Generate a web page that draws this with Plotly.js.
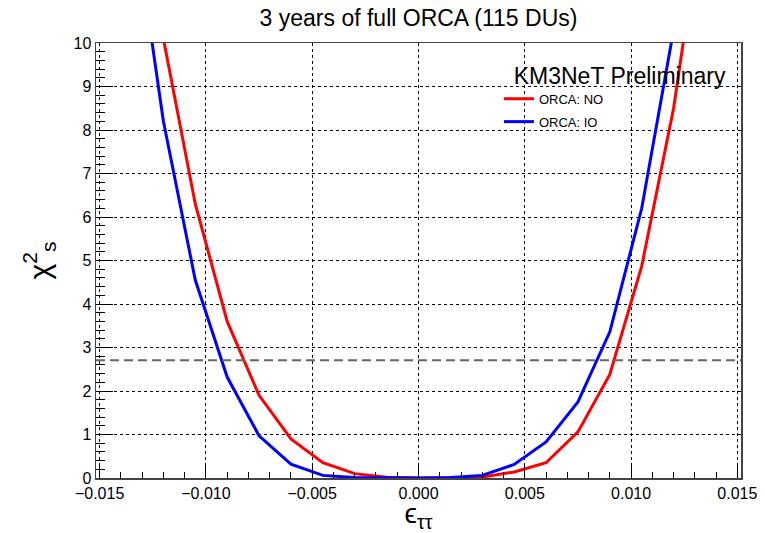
<!DOCTYPE html>
<html>
<head>
<meta charset="utf-8">
<script src="https://cdn.plot.ly/plotly-3.0.1.min.js"></script>
<style>html,body{margin:0;padding:0;background:#fff;}#chart{width:765px;height:533px;}</style>
</head>
<body>
<div id="chart"></div>
<script>
// epsilon_tautau scan points
var eps = [-0.015, -0.0135, -0.012, -0.0105, -0.009, -0.0075, -0.006, -0.0045, -0.003, -0.0015, 0,
           0.0015, 0.003, 0.0045, 0.006, 0.0075, 0.009, 0.0105, 0.012, 0.0135, 0.015];
// chi2 for ORCA normal ordering
var chi2NO = [20, 15, 10.1, 6.3, 3.6, 1.9, 0.9, 0.35, 0.1, 0.02, 0,
              0, 0.02, 0.14, 0.35, 1.06, 2.38, 4.87, 8.5, 13.5, 19];
// chi2 for ORCA inverted ordering
var chi2IO = [18, 13.3, 8.2, 4.55, 2.32, 0.97, 0.32, 0.06, 0.01, 0, 0,
              0.01, 0.06, 0.31, 0.83, 1.75, 3.36, 6.2, 10.3, 15, 20.5];
var seriesNames = ['ORCA: NO', 'ORCA: IO'];
var clLevel = 2.706;
var xTicks = [-0.015, -0.010, -0.005, 0.000, 0.005, 0.010, 0.015];
var yTicks = [0, 1, 2, 3, 4, 5, 6, 7, 8, 9, 10];

var font = 'Liberation Sans, Arial, Helvetica, sans-serif';

var traces = [
  {x: eps, y: chi2NO, name: seriesNames[0], legendgroup: 'no', mode: 'lines', line: {color: '#ff0000', width: 3}},
  {x: eps, y: chi2IO, name: seriesNames[1], legendgroup: 'io', mode: 'lines', line: {color: '#0000ff', width: 3}}
];

var layout = {
  width: 765, height: 533,
  margin: {l: 96, r: 24, t: 43, b: 55},
  paper_bgcolor: '#fff', plot_bgcolor: '#fff',
  font: {family: font, color: '#000'},
  title: {text: '3 years of full ORCA (115 DUs)', font: {size: 23, family: font},
          xref: 'paper', x: 0.5, xanchor: 'center', yref: 'container', y: 0.966, yanchor: 'middle'},
  xaxis: {
    range: [-0.01517, 0.01517],
    tickvals: xTicks, tickformat: '.3f',
    ticks: 'inside', ticklen: 12, tickwidth: 1, tickcolor: '#000',
    minor: {dtick: 0.001, tick0: 0, ticks: 'inside', ticklen: 6, tickcolor: '#000', showgrid: false},
    showgrid: true, griddash: 'dot', gridcolor: '#000', gridwidth: 1,
    zeroline: false, showline: true, mirror: true, linecolor: '#444', linewidth: 1.5,
    tickfont: {size: 16, family: font},
    title: {text: 'ϵ<sub>ττ</sub>', font: {size: 28, family: font}, standoff: 6}
  },
  yaxis: {
    range: [0, 10],
    tickvals: yTicks,
    ticks: 'inside', ticklen: 17, tickwidth: 1, tickcolor: '#000',
    minor: {dtick: 0.2, tick0: 0, ticks: 'inside', ticklen: 9, tickcolor: '#000', showgrid: false},
    showgrid: true, griddash: 'dot', gridcolor: '#000', gridwidth: 1,
    zeroline: false, showline: true, mirror: true, linecolor: '#444', linewidth: 1.5,
    tickfont: {size: 16, family: font},
    title: {text: 'χ<sup>2</sup><sub>s</sub>', font: {size: 30, family: font}, standoff: 14}
  },
  legend: {
    x: 0.6247, y: 0.975, xanchor: 'left', yanchor: 'top',
    bgcolor: 'rgba(0,0,0,0)', borderwidth: 0,
    title: {text: '\u00a0\u00a0KM3NeT Preliminary', font: {size: 23, family: font}},
    font: {size: 13, family: font},
    itemwidth: 30, tracegroupgap: 3
  },
  showlegend: true,
  shapes: [
    {type: 'line', xref: 'paper', x0: 0, x1: 1, yref: 'y', y0: clLevel, y1: clLevel,
     line: {color: '#666', width: 2, dash: '9px,5px'}, layer: 'above'}
  ]
};

Plotly.newPlot('chart', traces, layout, {displayModeBar: false, staticPlot: true});
</script>
</body>
</html>
